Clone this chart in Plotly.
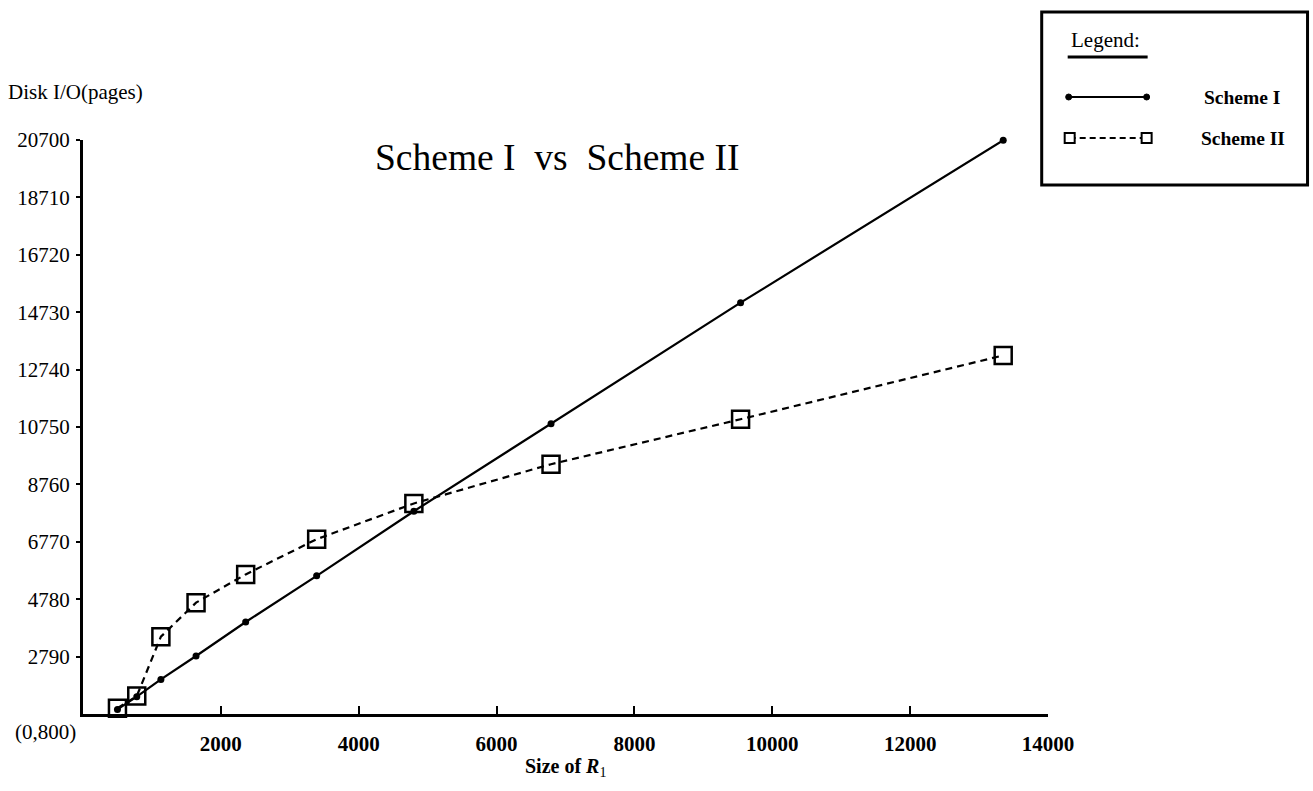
import plotly.graph_objects as go

# ---- data ----
size_r1 = [500, 780, 1130, 1640, 2360, 3390, 4800, 6790, 9540, 13350]
scheme1 = [960, 1400, 2000, 2810, 3990, 5590, 7830, 10860, 15060, 20690]
scheme2 = [1000, 1420, 3480, 4660, 5640, 6860, 8100, 9460, 11020, 13230]

x_ticks = [2000, 4000, 6000, 8000, 10000, 12000, 14000]
y_ticks = [2790, 4780, 6770, 8760, 10750, 12740, 14730, 16720, 18710, 20700]

FONT = "Liberation Serif"
W, H = 1313, 791
L, R, T, B = 82.7, 1048.3, 140, 714  # plot area in pixels


def px(x):
    return (x - L) / (R - L)


def py(y):
    return (B - y) / (B - T)


fig = go.Figure()

fig.add_trace(go.Scatter(
    x=size_r1, y=scheme2, mode="lines+markers", name="Scheme II",
    line=dict(color="black", width=2.2, dash="7px,5px"),
    marker=dict(symbol="square-open", size=17, color="black",
                line=dict(width=2.5, color="black")),
    cliponaxis=False,
))
fig.add_trace(go.Scatter(
    x=size_r1, y=scheme1, mode="lines+markers", name="Scheme I",
    line=dict(color="black", width=2.2),
    marker=dict(symbol="circle", size=7, color="black"),
    cliponaxis=False,
))

shapes = []
annotations = []

# Legend box
shapes.append(dict(type="rect", xref="paper", yref="paper",
                   x0=px(1042), x1=px(1308), y0=py(185), y1=py(12),
                   line=dict(color="black", width=3), fillcolor="white"))
# underline of "Legend:"
shapes.append(dict(type="line", xref="paper", yref="paper",
                   x0=px(1068), x1=px(1148), y0=py(57), y1=py(57),
                   line=dict(color="black", width=3)))
# Scheme I sample
shapes.append(dict(type="line", xref="paper", yref="paper",
                   x0=px(1069), x1=px(1147), y0=py(97), y1=py(97),
                   line=dict(color="black", width=2)))
for cx in (1069, 1147):
    shapes.append(dict(type="circle", xref="paper", yref="paper",
                       x0=px(cx - 3), x1=px(cx + 3), y0=py(100), y1=py(94),
                       fillcolor="black", line=dict(color="black", width=1)))
# Scheme II sample
shapes.append(dict(type="line", xref="paper", yref="paper",
                   x0=px(1070), x1=px(1147), y0=py(138), y1=py(138),
                   line=dict(color="black", width=2, dash="6px,4px")))
for cx in (1070, 1147):
    shapes.append(dict(type="rect", xref="paper", yref="paper",
                       x0=px(cx - 5), x1=px(cx + 5), y0=py(143), y1=py(133),
                       fillcolor="white", line=dict(color="black", width=2)))

annotations += [
    dict(text="Legend:", x=px(1106), y=py(40), font=dict(size=21, family=FONT)),
    dict(text="<b>Scheme I</b>", x=px(1242), y=py(97), font=dict(size=19.5, family=FONT)),
    dict(text="<b>Scheme II</b>", x=px(1243), y=py(138), font=dict(size=19.5, family=FONT)),
    dict(text="Scheme I\u00a0\u00a0vs\u00a0\u00a0Scheme II", x=px(557), y=py(158),
         font=dict(size=37.5, family=FONT)),
    dict(text="Disk I/O(pages)", x=px(6), y=py(92), xanchor="left",
         font=dict(size=21, family=FONT)),
    dict(text="(0,800)", x=px(45), y=py(732), font=dict(size=21, family=FONT)),
    dict(text="<b>Size of <i>R</i></b><sub>1</sub>", x=px(565), y=py(768),
         font=dict(size=20, family=FONT)),
]
for a in annotations:
    a.update(xref="paper", yref="paper", showarrow=False)
    a.setdefault("xanchor", "center")
    a.setdefault("yanchor", "middle")

fig.update_layout(
    width=W, height=H,
    margin=dict(l=L, r=W - R, t=T, b=H - B, pad=0),
    paper_bgcolor="white", plot_bgcolor="white",
    showlegend=False,
    font=dict(family=FONT, color="black"),
    shapes=shapes,
    annotations=annotations,
    xaxis=dict(
        range=[0, 14000], tickvals=x_ticks,
        ticktext=[f"<b>{v}</b>" for v in x_ticks],
        showgrid=False, zeroline=False,
        showline=True, linecolor="black", linewidth=3,
        ticks="inside", ticklen=8, tickwidth=2, tickcolor="black",
        tickfont=dict(size=21, family=FONT),
        ticklabelstandoff=9,
    ),
    yaxis=dict(
        range=[800, 20700], tickvals=y_ticks,
        ticktext=[str(v) for v in y_ticks],
        showgrid=False, zeroline=False,
        showline=True, linecolor="black", linewidth=3,
        ticks="outside", ticklen=4, tickwidth=1.5, tickcolor="black",
        tickfont=dict(size=21, family=FONT),
        ticklabelstandoff=2,
    ),
)

fig.write_html("out.html")
